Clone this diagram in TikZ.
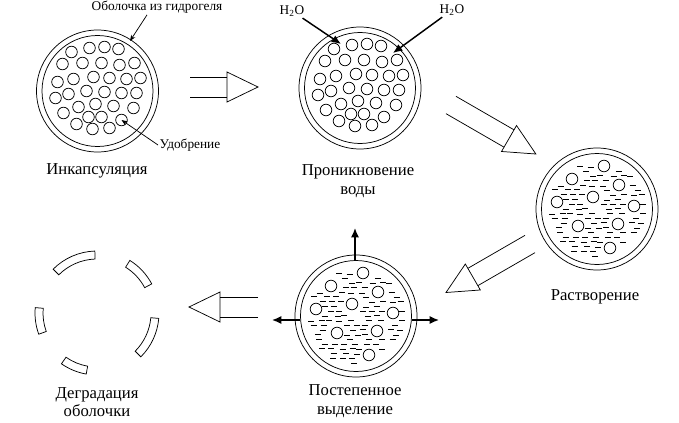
\documentclass[tikz,border=0pt]{standalone}
\usepackage{fontspec}
\setmainfont{Liberation Serif}
\usetikzlibrary{arrows.meta}

% fertilizer granules inside a fresh capsule
\newcommand{\granules}{%
  \foreach \gx/\gy in {-26/-39,-8/-43,7/-44,21/-42,
      -35/-27,-15/-28,4/-28,22/-26,37/-28,
      -40/-9,-24/-12,-4/-14,12/-13,29/-12,43/-13,
      -42/7,-29/3,-11/0,7/1,24/2,39/2,
      -34/22,-19/16,-2/13,16/15,36/17,
      -21/33,-9/26,4/26,24/29,-5/38,12/37}
    \draw (\gx,\gy) circle (5.8);}

% dissolved fertilizer: few granules and dashes
\newcommand{\solute}{%
  \pgfmathsetseed{42}
  \foreach \gx/\gy in {7/-43,-25/-30,22/-24,-4/-12,-40/-7,37/-3,-19/17,21/15,13/39}
    \draw (\gx,\gy) circle (5.8);
  \foreach \dr in {-10,...,10}{
    \foreach \dc in {-6,...,6}{
      \pgfmathsetmacro\dx{\dc*10+mod(\dr+10,2)*5+2.5*rand}
      \pgfmathsetmacro\dy{\dr*4.7+0.5*rand}
      \pgfmathsetmacro\dgap{min(veclen(\dx-7,\dy+43),veclen(\dx+25,\dy+30),veclen(\dx-22,\dy+24),veclen(\dx+4,\dy+12),veclen(\dx+40,\dy+7),veclen(\dx-37,\dy+3),veclen(\dx+19,\dy-17),veclen(\dx-21,\dy-15),veclen(\dx-13,\dy-39))}
      \pgfmathsetmacro\drad{veclen(\dx,\dy)}
      \pgfmathtruncatemacro\keep{(\dgap>9.5)&&(\drad<48)&&(rnd>0.1)}
      \ifnum\keep=1 \draw (\dx-3,\dy) -- (\dx+3,\dy);\fi
    }}}

% broken piece of the shell
\newcommand{\shard}[2]{%
  \draw (#1:62) arc[start angle=#1, end angle=#2, radius=62]
    -- (#2:54) arc[start angle=#2, end angle=#1, radius=54] -- cycle;}

\begin{document}
\begin{tikzpicture}[x=0.75pt,y=-0.75pt,line width=0.55pt,
    stage/.style={font=\fontsize{12.5}{14}\selectfont,align=center},
    note/.style={font=\fontsize{10}{12}\selectfont,inner sep=1pt},
    flow/.style={-{Latex[length=7pt,width=6pt]},line width=1.1pt},
    pointer/.style={-{Stealth[length=4.5pt,width=3.5pt]}},
    pics/blockarr/.style={code={
      \draw (0,10) -- (#1-31,10) (0,-10) -- (#1-31,-10);
      \draw (#1-31,15) -- (#1,0) -- (#1-31,-15) -- cycle;}}]
  \useasboundingbox (0,0) rectangle (679,422);

  \coordinate (enc) at (97.5,91);
  \coordinate (pen) at (360,88);
  \coordinate (dis) at (597,209);
  \coordinate (rel) at (356,316);
  \coordinate (deg) at (97,313);

  % capsules
  \foreach \stagept in {enc,pen,dis,rel}
    \draw (\stagept) circle (61) (\stagept) circle (55.5);
  \begin{scope}[shift={(enc)}] \granules \end{scope}
  \begin{scope}[shift={(pen)}] \granules \end{scope}
  \begin{scope}[shift={(dis)}] \solute \end{scope}
  \begin{scope}[shift={(rel)}] \solute \end{scope}
  \begin{scope}[shift={(deg)}]
    \shard{-135}{-92}
    \shard{-58}{-28}
    \shard{-200}{-175}
    \shard{5}{45}
    \shard{-260}{-235}
  \end{scope}

  % callouts
  \node[note] (shell) at (157,7) {Оболочка из гидрогеля};
  \coordinate (shellpt) at (130,41);
  \draw[pointer] ([xshift=-7.5pt]shell.south) -- (shellpt);
  \node[note] (fertl) at (190,145) {Удобрение};
  \coordinate (fert) at (121.5,120);
  \draw[pointer] (fertl.west) -- (fert);

  % water in
  \node[note] (wl) at (292,11) {H\textsubscript{2}O};
  \node[note] (wr) at (452,10) {H\textsubscript{2}O};
  \coordinate (wlt) at (341,44);
  \coordinate (wrt) at (393,53);
  \draw[flow] (wl) -- (wlt);
  \draw[flow] (wr) -- (wrt);

  % release out
  \coordinate (up0) at (355,260);
  \coordinate (up1) at (355,228);
  \coordinate (lt0) at (300,320);
  \coordinate (lt1) at (272,320);
  \coordinate (rt0) at (412,320);
  \coordinate (rt1) at (439,320);
  \draw[flow] (up0) -- (up1);
  \draw[flow] (lt0) -- (lt1);
  \draw[flow] (rt0) -- (rt1);

  % block arrows between stages
  \coordinate (a1) at (190,87);
  \coordinate (a2) at (451,105);
  \coordinate (a3) at (530,244);
  \coordinate (a4) at (258,307);
  \pic at (a1) {blockarr=68};
  \pic[rotate=-30] at (a2) {blockarr=98};
  \pic[rotate=210] at (a3) {blockarr=97};
  \pic[rotate=180] at (a4) {blockarr=69};

  % stage names
  \node[stage] (encl) at (97,171) {Инкапсуляция};
  \node[stage] (penl) at (358,181) {Проникновение\\воды};
  \node[stage] (disl) at (595,297) {Растворение};
  \node[stage] (rell) at (355,401) {Постепенное\\выделение};
  \node[stage] (degl) at (97,402) {Деградация\\оболочки};
\end{tikzpicture}
\end{document}
